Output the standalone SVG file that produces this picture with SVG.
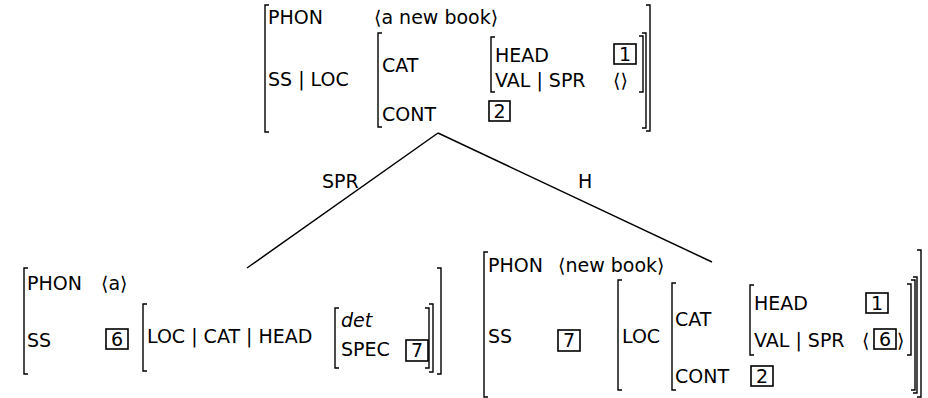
<svg xmlns="http://www.w3.org/2000/svg" width="928" height="398" viewBox="0 0 928 398">
<style>
text{font-family:"DejaVu Sans","Liberation Sans",sans-serif;font-size:19px;fill:#000}
.it{font-style:italic}
.num{text-anchor:middle}
.br{fill:none;stroke:#000;stroke-width:1.4}
.box{fill:none;stroke:#000;stroke-width:1.6}
.edge{stroke:#000;stroke-width:1.5;fill:none}
</style>
<rect width="928" height="398" fill="#fff"/>
<g id="connectors">
<line class="edge" x1="438" y1="133" x2="247" y2="268"/>
<line class="edge" x1="438" y1="133" x2="712" y2="262"/>
<text x="322" y="188">SPR</text>
<text x="578" y="188">H</text>
</g>
<g id="node-top">
<path class="br" d="M269 5H265V132H269"/>
<path class="br" d="M382 33H378V127H382"/>
<path class="br" d="M495 37H491V92H495"/>
<path class="br" d="M639 36H643V92H639"/>
<path class="br" d="M642 33H646V128H642"/>
<path class="br" d="M646 5H650V131H646"/>
<text x="268" y="24">PHON</text>
<text x="374" y="24">⟨a new book⟩</text>
<text x="268" y="86">SS | LOC</text>
<text x="382" y="72">CAT</text>
<text x="382" y="121">CONT</text>
<text x="495" y="62">HEAD</text>
<text x="495" y="87">VAL | SPR</text>
<rect class="box" x="614" y="44" width="22" height="20"/>
<text class="num" x="625" y="61">1</text>
<text x="613" y="87">⟨⟩</text>
<rect class="box" x="489" y="101" width="21" height="20"/>
<text class="num" x="499.5" y="118">2</text>
</g>
<g id="node-left">
<path class="br" d="M28 268H24V374H28"/>
<path class="br" d="M147 304H143V371H147"/>
<path class="br" d="M339 308H335V368H339"/>
<path class="br" d="M425 308H429V368H425"/>
<path class="br" d="M429 304H433V372H429"/>
<path class="br" d="M437 268H441V374H437"/>
<text x="27" y="290">PHON</text>
<text x="101" y="290">⟨a⟩</text>
<text x="27" y="347">SS</text>
<rect class="box" x="106" y="329" width="22" height="20"/>
<text class="num" x="117" y="346">6</text>
<text x="147" y="343">LOC | CAT | HEAD</text>
<text class="it" x="341" y="327">det</text>
<text x="341" y="356">SPEC</text>
<rect class="box" x="406" y="340" width="22" height="21"/>
<text class="num" x="417" y="357">7</text>
</g>
<g id="node-right">
<path class="br" d="M488 252H484V397H488"/>
<path class="br" d="M622 280H618V390H622"/>
<path class="br" d="M676 283H672V390H676"/>
<path class="br" d="M754 285H750V355H754"/>
<path class="br" d="M907 284H911V355H907"/>
<path class="br" d="M911 280H915V390H911"/>
<path class="br" d="M913 277H917V393H913"/>
<path class="br" d="M917 250H921V397H917"/>
<text x="488" y="272">PHON</text>
<text x="558" y="272">⟨new book⟩</text>
<text x="488" y="343">SS</text>
<rect class="box" x="558" y="330" width="22" height="21"/>
<text class="num" x="569" y="347">7</text>
<text x="622" y="343">LOC</text>
<text x="675" y="326">CAT</text>
<text x="675" y="383">CONT</text>
<text x="754" y="310">HEAD</text>
<text x="754" y="347">VAL | SPR</text>
<rect class="box" x="866" y="293" width="22" height="20"/>
<text class="num" x="877" y="310">1</text>
<text x="862" y="347">⟨</text>
<rect class="box" x="874" y="329" width="22" height="20"/>
<text class="num" x="885" y="346">6</text>
<text x="897" y="347">⟩</text>
<rect class="box" x="751" y="366" width="22" height="20"/>
<text class="num" x="762" y="383">2</text>
</g>
</svg>
